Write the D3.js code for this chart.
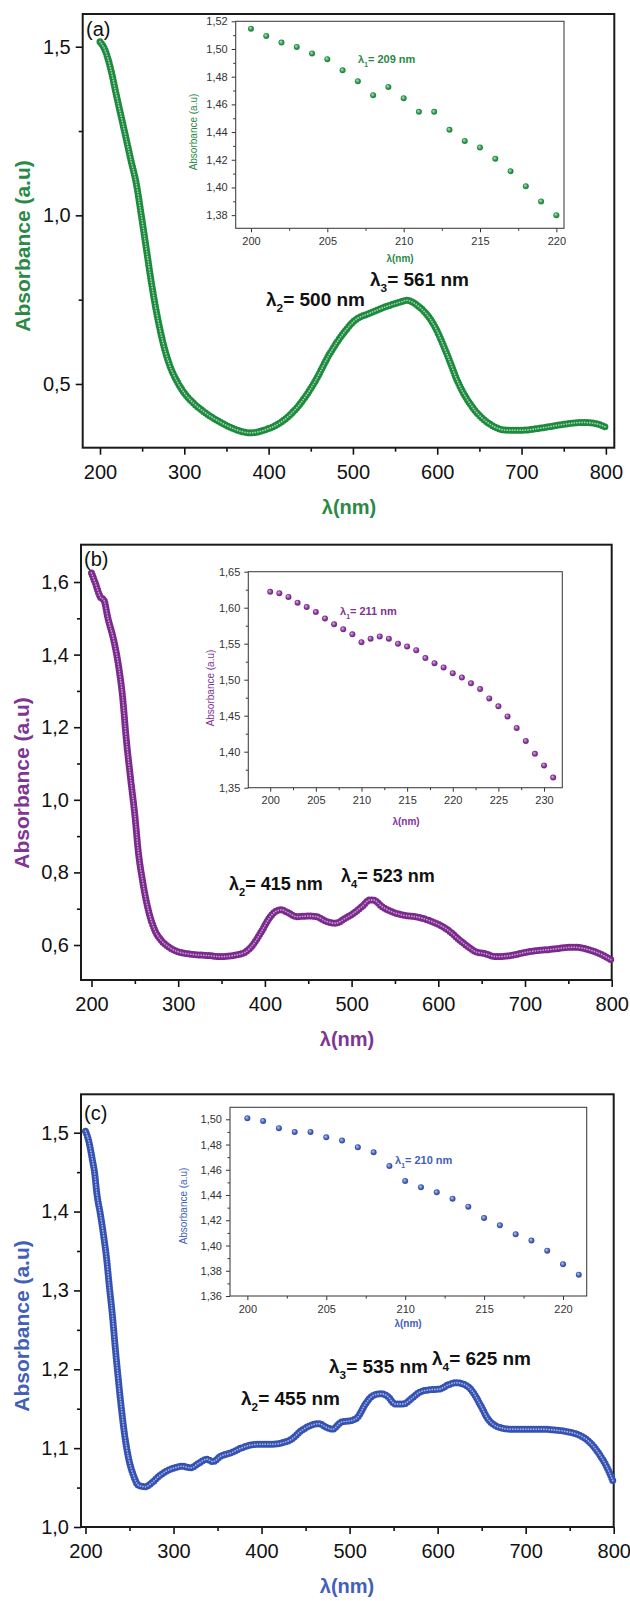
<!DOCTYPE html>
<html><head><meta charset="utf-8">
<script src="https://cdn.jsdelivr.net/npm/d3@7"></script>
<style>body{margin:0;background:#fff}svg{display:block}</style>
</head><body>
<script>
// ---------------- DATA ----------------
// Panel (a) main spectrum
const aWavelength = [200,206,212,220,229,237,243,249,255,261,268,275,282,292,301,311,322,333,344,356,368,378,397,416,435,454,473,492,501,520,540,559,563,578,597,611,625,644,663,682,701,725,749,773,787,800];
const aAbsorbance = [1.515,1.490,1.441,1.350,1.250,1.160,1.095,1.000,0.900,0.800,0.700,0.620,0.560,0.505,0.470,0.443,0.420,0.401,0.385,0.370,0.359,0.355,0.365,0.389,0.434,0.503,0.592,0.661,0.686,0.710,0.730,0.745,0.748,0.730,0.671,0.592,0.503,0.424,0.380,0.363,0.363,0.370,0.380,0.386,0.383,0.372];
// Panel (a) inset
const aInsetWavelength = [200,201,202,203,204,205,206,207,208,209,210,211,212,213,214,215,216,217,218,219,220];
const aInsetAbsorbance = [1.5147,1.5094,1.5046,1.5015,1.4967,1.4926,1.4846,1.4767,1.4666,1.4726,1.4644,1.4546,1.4546,1.4416,1.4336,1.4288,1.4207,1.4117,1.4009,1.3899,1.3800];

// Panel (b) main spectrum
const bWavelength = [200,205,209,211,214,219,226,231,236,240,245,250,254,259,266,273,280,289,298,317,335,349,363,377,386,396,405,412,419,426,437,451,460,470,481,493,502,512,521,525,535,546,558,576,590,609,629,645,652,667,680,706,730,756,775,790,800];
const bAbsorbance = [1.625,1.593,1.565,1.556,1.552,1.500,1.436,1.372,1.280,1.170,1.060,0.958,0.857,0.775,0.692,0.641,0.614,0.595,0.583,0.574,0.571,0.568,0.571,0.580,0.600,0.637,0.674,0.692,0.697,0.690,0.678,0.680,0.678,0.666,0.660,0.674,0.687,0.706,0.724,0.724,0.706,0.692,0.683,0.677,0.667,0.645,0.605,0.580,0.577,0.568,0.570,0.582,0.588,0.594,0.586,0.572,0.558];
// Panel (b) inset
const bInsetWavelength = [200,201,202,203,204,205,206,207,208,209,210,211,212,213,214,215,216,217,218,219,220,221,222,223,224,225,226,227,228,229,230,231];
const bInsetAbsorbance = [1.622,1.620,1.615,1.607,1.601,1.594,1.585,1.577,1.570,1.563,1.552,1.557,1.560,1.557,1.550,1.546,1.541,1.530,1.523,1.517,1.509,1.503,1.495,1.487,1.474,1.463,1.449,1.433,1.415,1.397,1.381,1.364];

// Panel (c) main spectrum
const cWavelength = [200,204,208,210,213,217,220.5,224,227,230.6,234,237.4,240.6,244.3,248.8,254.3,260.2,268,275.3,283,292,301,310,319.5,328.7,337.8,344.6,353.8,365,376.6,388,399.4,413,424.5,433.6,445,454,465.5,472.4,480.6,490.6,502,509,518,527,536,543,552,561,570.5,579.6,591,602.4,611.5,620.7,629.8,638.9,648,657.2,668.6,682.3,700.5,718.8,732.5,746.2,759.8,771.3,782.7,791.8,800];
const cAbsorbance = [1.502,1.488,1.4645,1.452,1.422,1.396,1.370,1.340,1.306,1.268,1.225,1.186,1.152,1.118,1.088,1.066,1.053,1.051,1.056,1.064,1.071,1.075,1.077,1.075,1.081,1.086,1.083,1.090,1.094,1.100,1.104,1.105,1.105,1.107,1.111,1.122,1.128,1.131,1.127,1.124,1.133,1.135,1.139,1.156,1.167,1.169,1.166,1.156,1.156,1.163,1.171,1.174,1.175,1.180,1.183,1.181,1.173,1.156,1.137,1.127,1.124,1.124,1.124,1.123,1.121,1.117,1.109,1.094,1.077,1.056];
// Panel (c) inset
const cInsetWavelength = [200,201,202,203,204,205,206,207,208,209,210,211,212,213,214,215,216,217,218,219,220,221];
const cInsetAbsorbance = [1.5008,1.4987,1.4929,1.4900,1.4900,1.4857,1.4831,1.4778,1.4739,1.4630,1.4511,1.4461,1.4421,1.4371,1.4308,1.4218,1.4160,1.4089,1.4039,1.3959,1.3851,1.3769];

// Tick values
const mainXTicks = [200,300,400,500,600,700,800];
const mainXMinor = [250,350,450,550,650,750];
const aYTicks = [0.5,1.0,1.5], aYMinor = [0.75,1.25];
const bYTicks = [0.6,0.8,1.0,1.2,1.4,1.6], bYMinor = [0.7,0.9,1.1,1.3,1.5];
const cYTicks = [1.0,1.1,1.2,1.3,1.4,1.5], cYMinor = [1.05,1.15,1.25,1.35,1.45];
const aInsetXTicks = [200,205,210,215,220], aInsetXMinor = [202.5,207.5,212.5,217.5];
const aInsetYTicks = [1.38,1.40,1.42,1.44,1.46,1.48,1.50,1.52], aInsetYMinor = [1.39,1.41,1.43,1.45,1.47,1.49,1.51];
const bInsetXTicks = [200,205,210,215,220,225,230], bInsetXMinor = [202.5,207.5,212.5,217.5,222.5,227.5];
const bInsetYTicks = [1.35,1.40,1.45,1.50,1.55,1.60,1.65], bInsetYMinor = [1.375,1.425,1.475,1.525,1.575,1.625];
const cInsetXTicks = [200,205,210,215,220], cInsetXMinor = [202.5,207.5,212.5,217.5];
const cInsetYTicks = [1.36,1.38,1.40,1.42,1.44,1.46,1.48,1.50], cInsetYMinor = [1.37,1.39,1.41,1.43,1.45,1.47,1.49];

// ---------------- DRAWING ----------------
const FONT = "'Liberation Sans', Arial, Helvetica, sans-serif";
const loc = d3.formatLocale({decimal: ",", thousands: ".", grouping: [3], currency: ["", ""]});
const f1 = loc.format(".1f"), f2 = loc.format(".2f");

const svg = d3.select("body").append("svg").attr("width", 630).attr("height", 1601)
  .style("font-family", FONT);
const defs = svg.append("defs");

function grad(id, light, dark) {
  const g = defs.append("radialGradient").attr("id", id).attr("cx", "50%").attr("cy", "50%").attr("r", "55%").attr("fx", "35%").attr("fy", "32%");
  g.append("stop").attr("offset", "0%").attr("stop-color", light);
  g.append("stop").attr("offset", "70%").attr("stop-color", dark);
  g.append("stop").attr("offset", "100%").attr("stop-color", dark);
}

function styleAxis(sel, size, color) {
  sel.select(".domain").remove();
  sel.selectAll(".tick line").attr("stroke", color).attr("stroke-width", size > 15 ? 1.6 : 1);
  sel.selectAll(".tick text").attr("fill", color).style("font-size", size + "px").style("font-family", FONT);
}

function annotate(g, x, y, sub, rest, size, color) {
  const t = g.append("text").attr("x", x).attr("y", y).attr("fill", color)
    .style("font-size", size + "px").style("font-weight", "bold");
  t.append("tspan").text("λ");
  t.append("tspan").attr("dy", size * 0.32).style("font-size", (size * 0.62) + "px").text(sub);
  t.append("tspan").attr("dy", -size * 0.32).text(rest);
}

function drawMain(cfg) {
  const g = svg.append("g");
  const x = d3.scaleLinear().domain(cfg.xDomain).range([cfg.left, cfg.right]);
  const y = d3.scaleLinear().domain(cfg.yDomain).range([cfg.bottom, cfg.top]);

  const xa = g.append("g").attr("transform", `translate(0,${cfg.bottom})`)
    .call(d3.axisBottom(x).tickValues(mainXTicks).tickFormat(d3.format("d")).tickSize(7).tickPadding(10).tickSizeOuter(0));
  styleAxis(xa, 20, "#111");
  const xm = g.append("g").attr("transform", `translate(0,${cfg.bottom})`)
    .call(d3.axisBottom(x).tickValues(mainXMinor).tickFormat("").tickSize(4).tickSizeOuter(0));
  styleAxis(xm, 20, "#111");
  const ya = g.append("g").attr("transform", `translate(${cfg.left},0)`)
    .call(d3.axisLeft(y).tickValues(cfg.yTicks).tickFormat(f1).tickSize(7).tickPadding(5).tickSizeOuter(0));
  styleAxis(ya, 20, "#111");
  const ym = g.append("g").attr("transform", `translate(${cfg.left},0)`)
    .call(d3.axisLeft(y).tickValues(cfg.yMinor).tickFormat("").tickSize(4).tickSizeOuter(0));
  styleAxis(ym, 20, "#111");

  g.append("rect").attr("x", cfg.left).attr("y", cfg.top)
    .attr("width", cfg.right - cfg.left).attr("height", cfg.bottom - cfg.top)
    .attr("fill", "none").attr("stroke", "#1a1a1a").attr("stroke-width", 2);

  const pts = cfg.wl.map((d, i) => [d, cfg.abs[i]]);
  const line = d3.line().x(d => x(d[0])).y(d => y(d[1])).curve(d3.curveMonotoneX);
  g.append("path").attr("d", line(pts)).attr("fill", "none")
    .attr("stroke", cfg.dark).attr("stroke-width", 7).attr("stroke-linecap", "round")
    .attr("stroke-dasharray", "0 2.6");
  g.append("path").attr("d", line(pts)).attr("fill", "none")
    .attr("stroke", cfg.light).attr("stroke-width", 1.8).attr("stroke-linecap", "round")
    .attr("stroke-dasharray", "0 2.6").attr("opacity", 0.85);

  g.append("text").attr("transform", `translate(${cfg.yTitle[0]},${cfg.yTitle[1]}) rotate(-90)`)
    .attr("text-anchor", "middle").attr("dy", "0.35em").attr("fill", cfg.text)
    .style("font-size", "21px").style("font-weight", "bold").text("Absorbance (a.u)");
  g.append("text").attr("x", cfg.xTitle[0]).attr("y", cfg.xTitle[1]).attr("text-anchor", "middle")
    .attr("fill", cfg.text).style("font-size", "20px").style("font-weight", "bold").text("λ(nm)");
  g.append("text").attr("x", cfg.label[0]).attr("y", cfg.label[1]).attr("fill", "#111")
    .style("font-size", "20px").text(cfg.labelText);
  cfg.notes.forEach(n => annotate(g, n[0], n[1], n[2], n[3], cfg.noteSize, "#111"));

  drawInset(cfg.inset, cfg);
}

function drawInset(c, p) {
  const g = svg.append("g");
  const x = d3.scaleLinear().domain(c.xDomain).range([c.left, c.right]);
  const y = d3.scaleLinear().domain(c.yDomain).range([c.bottom, c.top]);
  g.append("rect").attr("x", c.left).attr("y", c.top).attr("width", c.right - c.left).attr("height", c.bottom - c.top)
    .attr("fill", "#fff");
  const xa = g.append("g").attr("transform", `translate(0,${c.bottom})`)
    .call(d3.axisBottom(x).tickValues(c.xTicks).tickFormat(d3.format("d")).tickSize(4).tickPadding(5).tickSizeOuter(0));
  styleAxis(xa, 11, "#333");
  const xm = g.append("g").attr("transform", `translate(0,${c.bottom})`)
    .call(d3.axisBottom(x).tickValues(c.xMinor).tickFormat("").tickSize(2.5).tickSizeOuter(0));
  styleAxis(xm, 11, "#333");
  const ya = g.append("g").attr("transform", `translate(${c.left},0)`)
    .call(d3.axisLeft(y).tickValues(c.yTicks).tickFormat(f2).tickSize(4).tickPadding(4).tickSizeOuter(0));
  styleAxis(ya, 11, "#333");
  const ym = g.append("g").attr("transform", `translate(${c.left},0)`)
    .call(d3.axisLeft(y).tickValues(c.yMinor).tickFormat("").tickSize(2.5).tickSizeOuter(0));
  styleAxis(ym, 11, "#333");
  g.append("rect").attr("x", c.left).attr("y", c.top).attr("width", c.right - c.left).attr("height", c.bottom - c.top)
    .attr("fill", "none").attr("stroke", "#444").attr("stroke-width", 1.1);

  g.selectAll("circle.pt").data(c.wl.map((d, i) => [d, c.abs[i]])).join("circle").attr("class", "pt")
    .attr("cx", d => x(d[0])).attr("cy", d => y(d[1])).attr("r", 3)
    .attr("fill", `url(#${p.gradId})`);

  g.append("text").attr("transform", `translate(${c.yTitle[0]},${c.yTitle[1]}) rotate(-90)`)
    .attr("text-anchor", "middle").attr("dy", "0.35em").attr("fill", p.text)
    .style("font-size", "10px").text("Absorbance (a.u)");
  g.append("text").attr("x", c.xTitle[0]).attr("y", c.xTitle[1]).attr("text-anchor", "middle")
    .attr("fill", p.text).style("font-size", "10px").style("font-weight", "bold").text("λ(nm)");
  annotate(g, c.note[0], c.note[1], "1", c.note[2], 11, p.text);
}

grad("gA", "#b9e6c4", "#1e8a3f");
grad("gB", "#dcb6e6", "#7a2a8c");
grad("gC", "#c2cdf2", "#3652b0");

drawMain({
  left: 82.7, right: 614.3, top: 14, bottom: 447.7,
  xDomain: [179.5, 810], yDomain: [0.311, 1.597],
  yTicks: aYTicks, yMinor: aYMinor,
  wl: aWavelength, abs: aAbsorbance,
  dark: "#1e8a3f", light: "#b7e2c1", text: "#2a8a45", gradId: "gA",
  yTitle: [23, 246], xTitle: [349, 514], label: [86, 36], labelText: "(a)",
  noteSize: 19,
  notes: [[266, 306, "2", "= 500 nm"], [370, 286, "3", "= 561 nm"]],
  inset: {
    left: 235.7, right: 564, top: 21.3, bottom: 228.3,
    xDomain: [199.0, 220.5], yDomain: [1.3705, 1.52],
    xTicks: aInsetXTicks, xMinor: aInsetXMinor, yTicks: aInsetYTicks, yMinor: aInsetYMinor,
    wl: aInsetWavelength, abs: aInsetAbsorbance,
    yTitle: [193, 132], xTitle: [400, 262], note: [358, 63, "= 209 nm"]
  }
});

drawMain({
  left: 81, right: 611.7, top: 544.7, bottom: 980,
  xDomain: [187.9, 800], yDomain: [0.5036, 1.7028],
  yTicks: bYTicks, yMinor: bYMinor,
  wl: bWavelength, abs: bAbsorbance,
  dark: "#7a2a8c", light: "#d2aedc", text: "#7e3594", gradId: "gB",
  yTitle: [22, 783], xTitle: [347, 1046], label: [84, 566], labelText: "(b)",
  noteSize: 18,
  notes: [[229, 890, "2", "= 415 nm"], [341, 882, "4", "= 523 nm"]],
  inset: {
    left: 248.3, right: 562.3, top: 571.7, bottom: 787.7,
    xDomain: [197.6, 232.0], yDomain: [1.35, 1.65],
    xTicks: bInsetXTicks, xMinor: bInsetXMinor, yTicks: bInsetYTicks, yMinor: bInsetYMinor,
    wl: bInsetWavelength, abs: bInsetAbsorbance,
    yTitle: [210, 688], xTitle: [406, 825], note: [340, 615, "= 211 nm"]
  }
});

drawMain({
  left: 81, right: 613.7, top: 1094.3, bottom: 1527,
  xDomain: [194.9, 800], yDomain: [1.0, 1.5487],
  yTicks: cYTicks, yMinor: cYMinor,
  wl: cWavelength, abs: cAbsorbance,
  dark: "#3652b0", light: "#b4c2ee", text: "#4360b8", gradId: "gC",
  yTitle: [22, 1326], xTitle: [347, 1593], label: [84, 1120], labelText: "(c)",
  noteSize: 19,
  notes: [[241, 1405, "2", "= 455 nm"], [329, 1373, "3", "= 535 nm"], [432, 1365, "4", "= 625 nm"]],
  inset: {
    left: 230, right: 586.7, top: 1107.3, bottom: 1296,
    xDomain: [198.9, 221.5], yDomain: [1.36, 1.5095],
    xTicks: cInsetXTicks, xMinor: cInsetXMinor, yTicks: cInsetYTicks, yMinor: cInsetYMinor,
    wl: cInsetWavelength, abs: cInsetAbsorbance,
    yTitle: [183, 1206], xTitle: [408, 1327], note: [395, 1164, "= 210 nm"]
  }
});
</script>
</body></html>
